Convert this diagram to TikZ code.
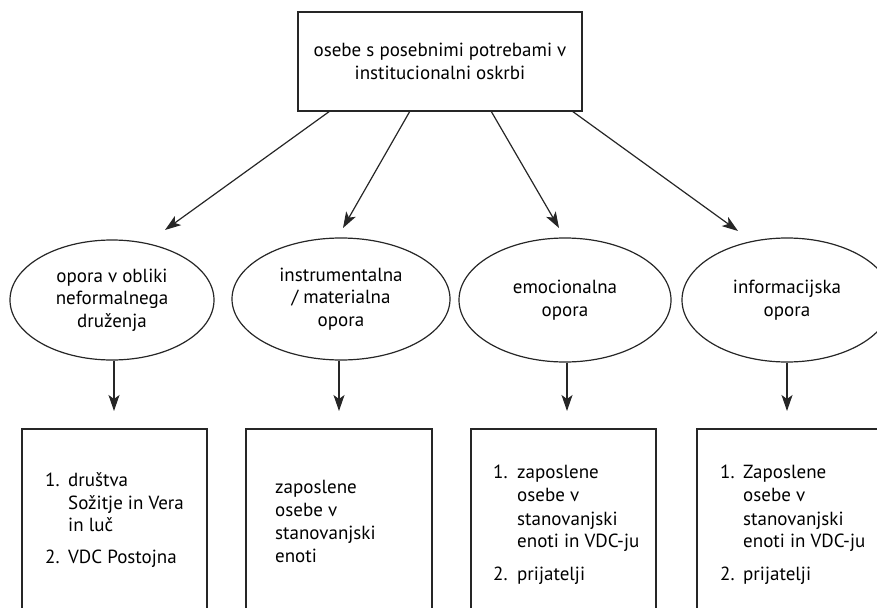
\documentclass[tikz,border=0pt]{standalone}
\usepackage{fontspec}
\setmainfont{PT Sans}
\usetikzlibrary{arrows.meta,shapes.geometric,calc}
\begin{document}
\begin{tikzpicture}[x=1pt,y=-1pt,
  every node/.style={font=\fontsize{19}{22.5}\selectfont},
  ln/.style={line width=1.2pt,draw=black!85},
  arr/.style={ln,-{Stealth[length=16pt,width=11pt,inset=4pt]}},
  topbox/.style={ln,rectangle,minimum width=284pt,minimum height=99pt,inner sep=0pt,align=center},
  ell/.style={ln,ellipse,inner sep=0pt,align=center},
  txt/.style={anchor=base west,inner sep=0pt}
]
\useasboundingbox (0,0) rectangle (877,607);
\clip (0,0) rectangle (877,607);
% top
\node[topbox] (top) at (440,61.5) {osebe s posebnimi potrebami v\\institucionalni oskrbi};
% ellipses
\node[ell,minimum width=204pt,minimum height=120pt] (e1) at (112,300) {opora v obliki\\neformalnega\\druženja};
\node[ell,minimum width=218pt,minimum height=122pt] (e2) at (341,299) {instrumentalna\\/ materialna\\opora};
\node[ell,minimum width=212pt,minimum height=124pt] (e3) at (565,300) {emocionalna\\opora};
\node[ell,minimum width=210pt,minimum height=124pt] (e4) at (787,300) {informacijska\\opora};
% bottom boxes (open at the bottom of the picture)
\draw[ln] (22,620) -- (22,429) -- (207,429) -- (207,620);
\draw[ln] (246,620) -- (246,429) -- (432,429) -- (432,620);
\draw[ln] (471,620) -- (471,429) -- (656,429) -- (656,620);
\draw[ln] (697,620) -- (697,429) -- (900,429);
\coordinate (t1) at (114,429);
\coordinate (t2) at (339,429);
\coordinate (t3) at (567,429);
\coordinate (t4) at (787,429);
% box 1
\node[txt] (n1a) at (45,486.7) {1.};
\node[txt] (x1a) at (68,486.7) {društva};
\node[txt] (x1b) at (68,509.3) {Sožitje in Vera};
\node[txt] (x1c) at (68,531.7) {in luč};
\node[txt] (n1b) at (45,563.3) {2.};
\node[txt] (x1d) at (68,563.3) {VDC Postojna};
% box 2
\node[txt] (x2a) at (275,493.3) {zaposlene};
\node[txt] (x2b) at (275,516) {osebe v};
\node[txt] (x2c) at (275,539.3) {stanovanjski};
\node[txt] (x2d) at (275,562.7) {enoti};
% box 3
\node[txt] (n3a) at (493,478.3) {1.};
\node[txt] (x3a) at (517,478.3) {zaposlene};
\node[txt] (x3b) at (517,501.7) {osebe v};
\node[txt] (x3c) at (517,525) {stanovanjski};
\node[txt] (x3d) at (517,547.7) {enoti in VDC-ju};
\node[txt] (n3b) at (493,580) {2.};
\node[txt] (x3e) at (517,580) {prijatelji};
% box 4
\node[txt] (n4a) at (720,478.3) {1.};
\node[txt] (x4a) at (743,478.3) {Zaposlene};
\node[txt] (x4b) at (743,501.7) {osebe v};
\node[txt] (x4c) at (743,525) {stanovanjski};
\node[txt] (x4d) at (743,547.7) {enoti in VDC-ju};
\node[txt] (n4b) at (720,580) {2.};
\node[txt] (x4e) at (743,580) {prijatelji};
% arrows top -> ellipses
\coordinate (s1) at (330,111);
\coordinate (s2) at (410,111);
\coordinate (s3) at (491,111);
\coordinate (s4) at (572,111);
\coordinate (p1) at (165,230);
\coordinate (p2) at (343,228);
\coordinate (p3) at (559,228);
\coordinate (p4) at (738,231);
\draw[arr] (s1) -- (p1);
\draw[arr] (s2) -- (p2);
\draw[arr] (s3) -- (p3);
\draw[arr] (s4) -- (p4);
% arrows ellipses -> boxes
\draw[arr] (t1 |- e1.south) -- ($(t1)+(0,-18)$);
\draw[arr] (t2 |- e2.south) -- ($(t2)+(0,-18)$);
\draw[arr] (t3 |- e3.south) -- ($(t3)+(0,-18)$);
\draw[arr] (t4 |- e4.south) -- ($(t4)+(0,-18)$);
\end{tikzpicture}
\end{document}
